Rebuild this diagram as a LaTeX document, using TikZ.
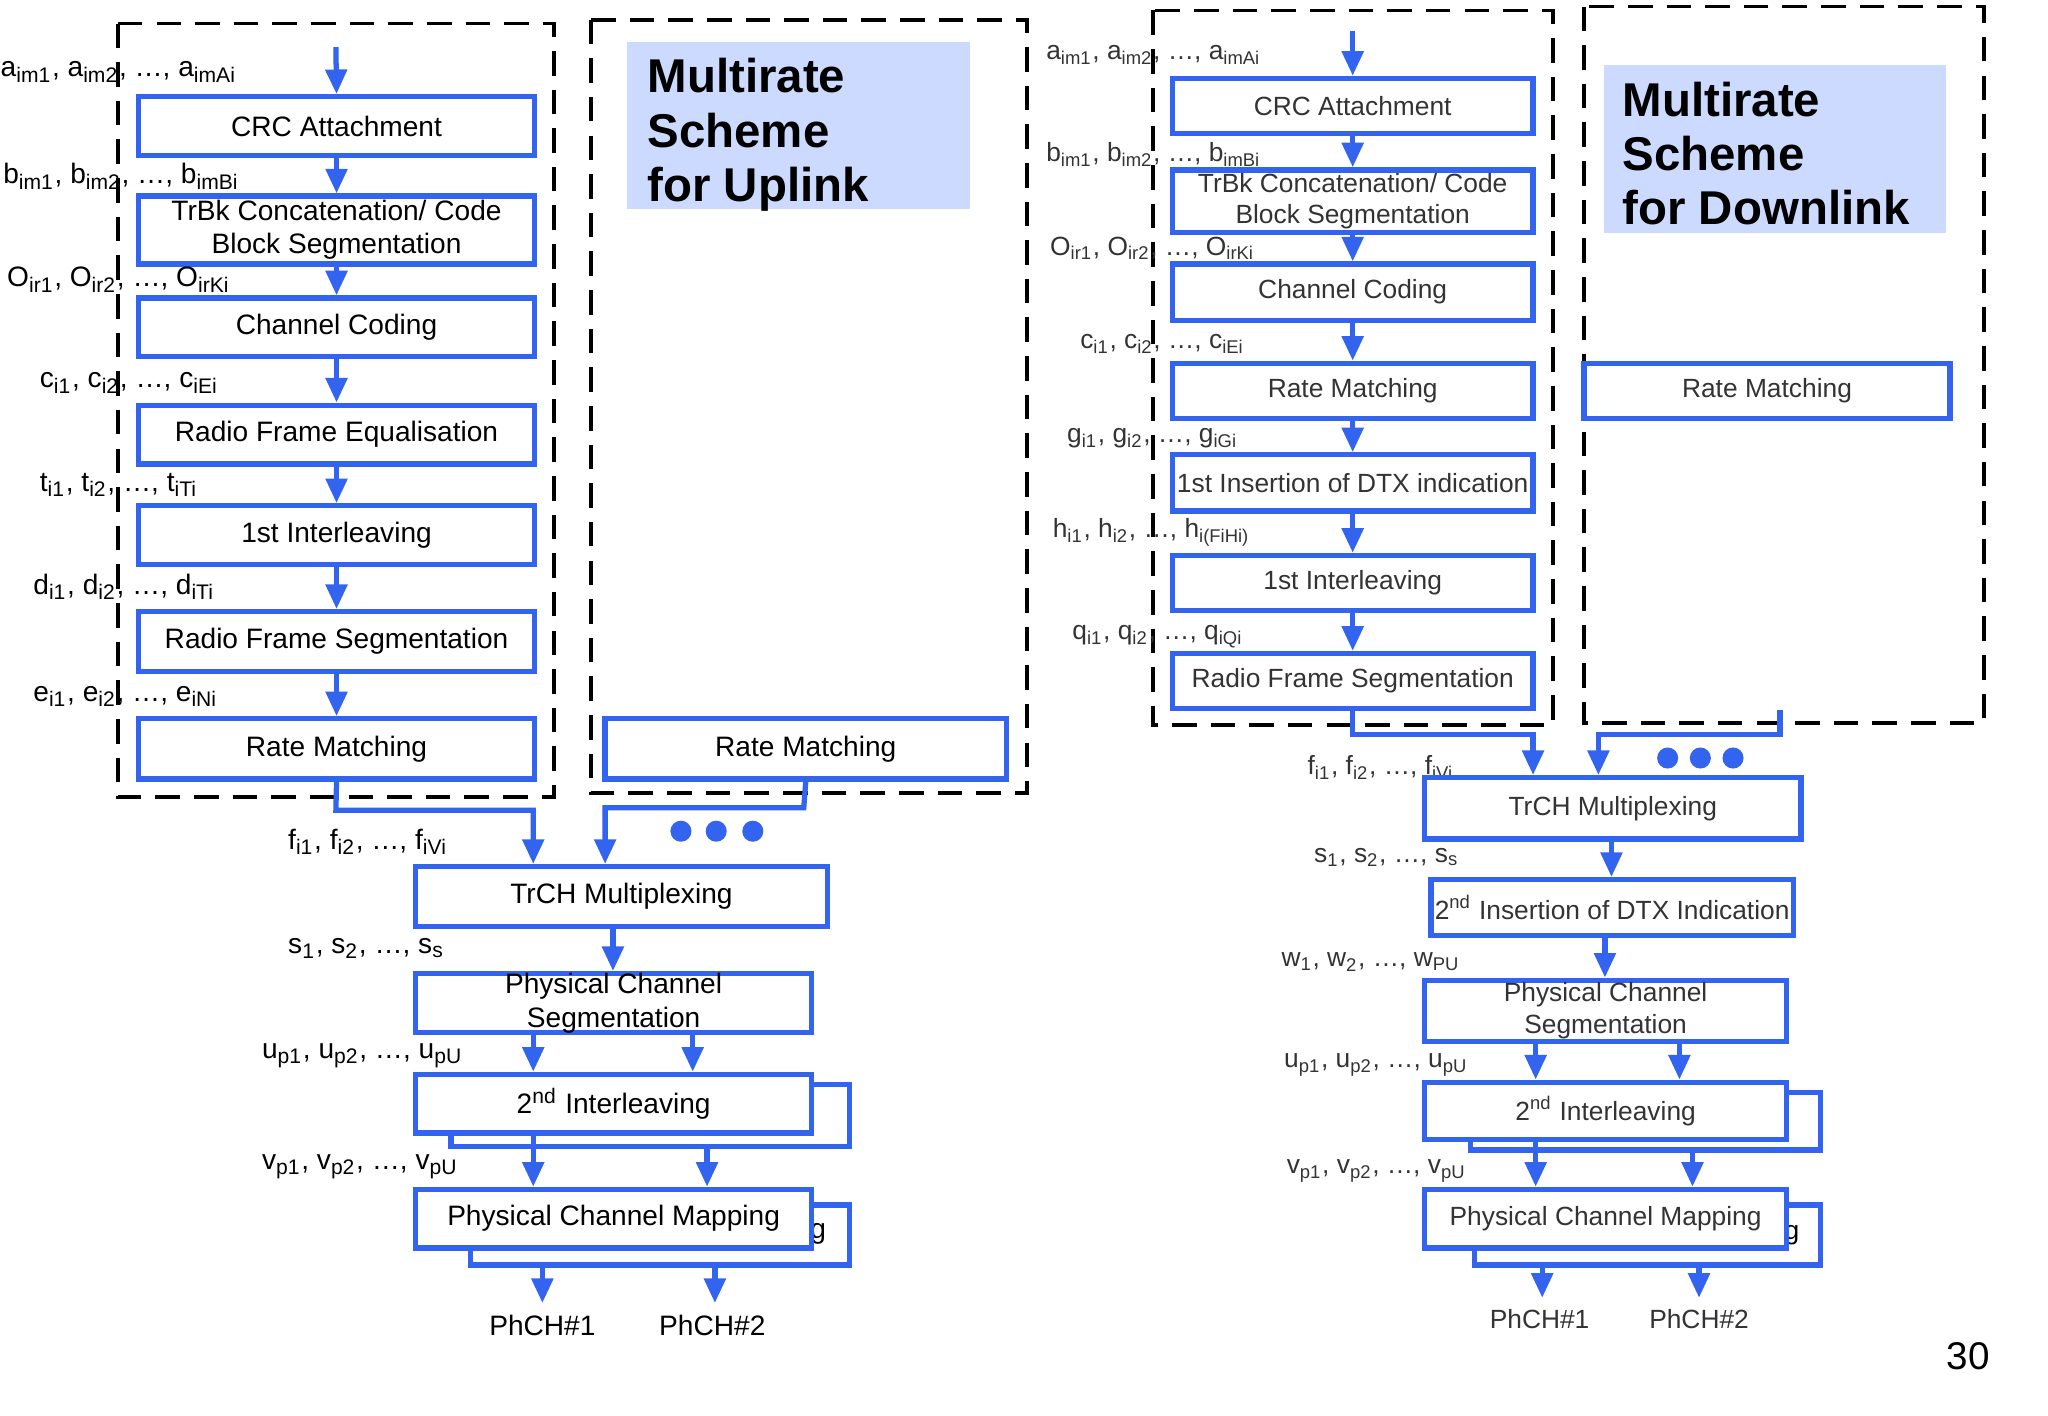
\documentclass[tikz,border=0pt]{standalone}
\usepackage{fontspec}
\setmainfont{Liberation Sans}
\usetikzlibrary{arrows.meta,fit}
\definecolor{bl}{RGB}{50,100,240}
\definecolor{tb}{RGB}{205,218,255}
\begin{document}
\begin{tikzpicture}[x=0.01307cm,y=-0.01307cm,
 box/.style={draw=bl,line width=1.5pt,fill=white,inner sep=0pt,label={[font=\fontsize{8}{9.5}\selectfont,align=center]center:#1}},
 dbox/.style={draw=bl,line width=1.5pt,fill=white,inner sep=0pt,label={[font=\fontsize{7.5}{9}\selectfont,align=center,text=black!80]center:#1}},
 arr/.style={draw=bl,line width=1.5pt,-{Triangle[length=7pt,width=6pt]}},
 ln/.style={draw=bl,line width=1.5pt},
 dsh/.style={draw=black,line width=1.1pt,dash pattern=on 7pt off 4pt},
 lab/.style={anchor=west,font=\fontsize{8}{9.5}\selectfont,inner sep=0pt},
 dlab/.style={anchor=west,font=\fontsize{7.5}{9}\selectfont,inner sep=0pt,text=black!80},
 ttl/.style={fill=tb,inner sep=0pt},
 tt/.style={anchor=north west,align=left,font=\fontsize{13.5}{15.5}\bfseries\selectfont,inner sep=0pt},
 dot/.style={fill=bl,circle,inner sep=0pt,minimum size=6pt}]
\useasboundingbox (0,0) rectangle (1567,1083.4);
% ---------- Uplink ----------
\draw[dsh] (90,18) rectangle (424,610);
\draw[dsh] (452,15) rectangle (786,607);
\node[ttl,fit={(480,32)(742,160)}] (ut) {};
\node[tt] at (495,44) {Multirate\\Scheme\\for Uplink};
\coordinate (ua) at (257,36);
\node[box=CRC Attachment,fit={(106,74)(409,119)}] (u1) {};
\node[box={TrBk Concatenation/ Code\\Block Segmentation},fit={(106,150)(409,202)}] (u2) {};
\node[box=Channel Coding,fit={(106,228)(409,273)}] (u3) {};
\node[box=Radio Frame Equalisation,fit={(106,310)(409,355)}] (u4) {};
\node[box=1st Interleaving,fit={(106,387)(409,432)}] (u5) {};
\node[box=Radio Frame Segmentation,fit={(106,468)(409,514)}] (u6) {};
\node[box=Rate Matching,fit={(106,550)(409,596)}] (u7) {};
\node[box=Rate Matching,fit={(463,550)(770,596)}] (u7b) {};
\draw[arr] (ua) -- (u1.north);
\draw[arr] (u1) -- (u2); \draw[arr] (u2) -- (u3); \draw[arr] (u3) -- (u4);
\draw[arr] (u4) -- (u5); \draw[arr] (u5) -- (u6); \draw[arr] (u6) -- (u7);
\node[lab] at (0,55) {a\textsubscript{im1}, a\textsubscript{im2}, \ldots, a\textsubscript{imAi}};
\node[lab] at (2,135) {b\textsubscript{im1}, b\textsubscript{im2}, \ldots, b\textsubscript{imBi}};
\node[lab] at (5,214) {O\textsubscript{ir1}, O\textsubscript{ir2}, \ldots, O\textsubscript{irKi}};
\node[lab] at (30,293) {c\textsubscript{i1}, c\textsubscript{i2}, \ldots, c\textsubscript{iEi}};
\node[lab] at (30,371) {t\textsubscript{i1}, t\textsubscript{i2}, \ldots, t\textsubscript{iTi}};
\node[lab] at (25,449) {d\textsubscript{i1}, d\textsubscript{i2}, \ldots, d\textsubscript{iTi}};
\node[lab] at (25,533) {e\textsubscript{i1}, e\textsubscript{i2}, \ldots, e\textsubscript{iNi}};
\node[box=TrCH Multiplexing,fit={(318,663)(633,709)}] (u8) {};
\draw[arr] (u7.south) -- (257,620) -- (408,620) -- (408,661);
\draw[arr] (u7b.south) -- (615,618) -- (463,618) -- (463,661);
\node[dot] at (521,636) {}; \node[dot] at (548,636) {}; \node[dot] at (576,636) {};
\node[lab] at (220,644) {f\textsubscript{i1}, f\textsubscript{i2}, \ldots, f\textsubscript{iVi}};
\node[box={Physical Channel\\Segmentation},fit={(318,745)(621,790)}] (u9) {};
\draw[arr] (469,709) -- (469,743);
\node[lab] at (220,726) {s\textsubscript{1}, s\textsubscript{2}, \ldots, s\textsubscript{s}};
\node[lab] at (200,808) {u\textsubscript{p1}, u\textsubscript{p2}, \ldots, u\textsubscript{pU}};
\node[lab] at (200,893) {v\textsubscript{p1}, v\textsubscript{p2}, \ldots, v\textsubscript{pU}};
\draw[ln,fill=white] (345,830) rectangle (650,877);
\node[box=2\textsuperscript{nd} Interleaving,fit={(318,822)(621,867)}] (u10) {};
\draw[arr] (408,790) -- (408,820); \draw[arr] (530,790) -- (530,820);
\draw[ln,fill=white] (360,922) rectangle (650,968);
\node[font=\fontsize{8}{9.5}\selectfont] at (626,944) {g};
\node[box=Physical Channel Mapping,fit={(318,910)(621,955)}] (u11) {};
\draw[arr] (408,867) -- (408,908); \draw[arr] (541,877) -- (541,908);
\node[font=\fontsize{8}{9.5}\selectfont] (p1) at (415,1014) {PhCH\#1};
\node[font=\fontsize{8}{9.5}\selectfont] (p2) at (545,1014) {PhCH\#2};
\draw[arr] (415,968) -- (415,997); \draw[arr] (547,968) -- (547,997);
% ---------- Downlink ----------
\draw[dsh] (882,8) rectangle (1188,555);
\draw[dsh] (1212,5) rectangle (1518,553);
\node[ttl,fit={(1227,50)(1489,178)}] (dt) {};
\node[tt] at (1241,62) {Multirate\\Scheme\\for Downlink};
\coordinate (da) at (1035,24);
\node[dbox=CRC Attachment,fit={(897,60)(1173,102)}] (d1) {};
\node[dbox={TrBk Concatenation/ Code\\Block Segmentation},fit={(897,130)(1173,178)}] (d2) {};
\node[dbox=Channel Coding,fit={(897,202)(1173,245)}] (d3) {};
\node[dbox=Rate Matching,fit={(897,278)(1173,320)}] (d4) {};
\node[dbox=1st Insertion of DTX indication,fit={(897,348)(1173,391)}] (d5) {};
\node[dbox=1st Interleaving,fit={(897,425)(1173,467)}] (d6) {};
\node[dbox=Radio Frame Segmentation,fit={(897,500)(1173,542)}] (d7) {};
\node[dbox=Rate Matching,fit={(1212,278)(1492,320)}] (d4b) {};
\draw[arr] (da) -- (d1.north);
\draw[arr] (d1) -- (d2); \draw[arr] (d2) -- (d3); \draw[arr] (d3) -- (d4);
\draw[arr] (d4) -- (d5); \draw[arr] (d5) -- (d6); \draw[arr] (d6) -- (d7);
\node[dlab] at (800,42) {a\textsubscript{im1}, a\textsubscript{im2}, \ldots, a\textsubscript{imAi}};
\node[dlab] at (800,118) {b\textsubscript{im1}, b\textsubscript{im2}, \ldots, b\textsubscript{imBi}};
\node[dlab] at (803,190) {O\textsubscript{ir1}, O\textsubscript{ir2}, \ldots, O\textsubscript{irKi}};
\node[dlab] at (826,263) {c\textsubscript{i1}, c\textsubscript{i2}, \ldots, c\textsubscript{iEi}};
\node[dlab] at (816,335) {g\textsubscript{i1}, g\textsubscript{i2}, \ldots, g\textsubscript{iGi}};
\node[dlab] at (805,407) {h\textsubscript{i1}, h\textsubscript{i2}, \ldots, h\textsubscript{i(FiHi)}};
\node[dlab] at (820,487) {q\textsubscript{i1}, q\textsubscript{i2}, \ldots, q\textsubscript{iQi}};
\node[dlab] at (1000,587) {f\textsubscript{i1}, f\textsubscript{i2}, \ldots, f\textsubscript{iVi}};
\node[dbox=TrCH Multiplexing,fit={(1090,595)(1378,642)}] (d8) {};
\draw[arr] (d7.south) -- (1035,562) -- (1173,562) -- (1173,593);
\draw[arr] (1362,543) -- (1362,562) -- (1223,562) -- (1223,593);
\node[dot] at (1276,580) {}; \node[dot] at (1301,580) {}; \node[dot] at (1326,580) {};
\node[dbox=2\textsuperscript{nd} Insertion of DTX Indication,fit={(1095,673)(1372,716)}] (d9) {};
\draw[arr] (1233,642) -- (1233,671);
\node[dlab] at (1005,656) {s\textsubscript{1}, s\textsubscript{2}, \ldots, s\textsubscript{s}};
\node[dbox={Physical Channel\\Segmentation},fit={(1090,750)(1367,797)}] (d10) {};
\draw[arr] (1228,716) -- (1228,748);
\node[dlab] at (980,736) {w\textsubscript{1}, w\textsubscript{2}, \ldots, w\textsubscript{PU}};
\node[dlab] at (982,815) {u\textsubscript{p1}, u\textsubscript{p2}, \ldots, u\textsubscript{pU}};
\node[dlab] at (984,896) {v\textsubscript{p1}, v\textsubscript{p2}, \ldots, v\textsubscript{pU}};
\draw[ln,fill=white] (1125,836) rectangle (1393,880);
\node[dbox=2\textsuperscript{nd} Interleaving,fit={(1090,828)(1367,872)}] (d11) {};
\draw[arr] (1175,797) -- (1175,826); \draw[arr] (1285,797) -- (1285,826);
\draw[ln,fill=white] (1128,922) rectangle (1393,968);
\node[font=\fontsize{7.5}{9}\selectfont] at (1371,945) {g};
\node[dbox=Physical Channel Mapping,fit={(1090,910)(1367,955)}] (d12) {};
\draw[arr] (1175,872) -- (1175,908); \draw[arr] (1295,880) -- (1295,908);
\node[font=\fontsize{7.5}{9}\selectfont,text=black!80] (q1) at (1178,1009) {PhCH\#1};
\node[font=\fontsize{7.5}{9}\selectfont,text=black!80] (q2) at (1300,1009) {PhCH\#2};
\draw[arr] (1180,968) -- (1180,993); \draw[arr] (1300,968) -- (1300,993);
\node[font=\fontsize{11}{13}\selectfont] at (1506,1038) {30};
\end{tikzpicture}
\end{document}
